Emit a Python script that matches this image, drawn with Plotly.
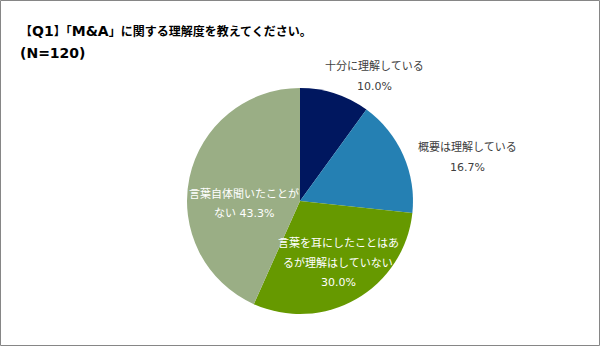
import plotly.graph_objects as go

# Survey answers (N=120)
categories = [
    "十分に理解している",
    "概要は理解している",
    "言葉を耳にしたことはあるが理解はしていない",
    "言葉自体聞いたことがない",
]
values = [10.0, 16.7, 30.0, 43.3]
colors = ["#00175f", "#2580b3", "#669900", "#9aae85"]

# Label lines as laid out on the chart; "{v}" is replaced by the value
label_lines = [
    ["十分に理解している", "{v}"],
    ["概要は理解している", "{v}"],
    ["言葉を耳にしたことはあ", "るが理解はしていない", "{v}"],
    ["言葉自体聞いたことが", "ない {v}"],
]
title_lines = ["【Q1】「M&A」に関する理解度を教えてください。", "(N=120)"]

W, H = 600, 346
FONT = "DejaVu Sans, Noto Sans CJK JP"

fig = go.Figure(
    go.Pie(
        labels=categories,
        values=values,
        sort=False,
        direction="clockwise",
        rotation=0,
        marker=dict(colors=colors, line=dict(width=0)),
        textinfo="none",
        hoverinfo="label+percent",
        domain=dict(x=[187 / W, 413 / W], y=[1 - 314 / H, 1 - 88 / H]),
        showlegend=False,
    )
)

# label placement: centre x, first line y, line step, colour (pixels)
placement = [
    (374, 66, 20, "#404040"),
    (467, 147, 20, "#404040"),
    (338, 243, 19.5, "#ffffff"),
    (244, 194, 19, "#ffffff"),
]

annotations = []
for i, (cx, y0, step, col) in enumerate(placement):
    for k, line in enumerate(label_lines[i]):
        annotations.append(dict(
            x=cx / W, y=1 - (y0 + k * step) / H, xref="paper", yref="paper",
            xanchor="center", yanchor="middle",
            text=line.replace("{v}", f"{values[i]:.1f}%"),
            showarrow=False,
            font=dict(family=FONT, size=11, color=col),
        ))


def bold_title(s):
    # Latin characters are set slightly larger than the CJK glyphs
    out = []
    for ch in s:
        if ord(ch) < 128:
            out.append(f'<span style="font-size:14px">{ch.replace("&", "&amp;")}</span>')
        else:
            out.append(ch)
    return "<b>" + "".join(out) + "</b>"


for k, line in enumerate(title_lines):
    annotations.append(dict(
        x=18 / W, y=1 - (31 + 22 * k) / H, xref="paper", yref="paper",
        xanchor="left", yanchor="middle", align="left",
        text=bold_title(line),
        showarrow=False,
        font=dict(family=FONT, size=12, color="#000000"),
    ))

fig.update_layout(
    width=W, height=H,
    margin=dict(l=0, r=0, t=0, b=0),
    paper_bgcolor="#ffffff",
    plot_bgcolor="#ffffff",
    annotations=annotations,
    shapes=[dict(
        type="rect", xref="paper", yref="paper",
        x0=0.5 / W, x1=1 - 0.5 / W, y0=0.5 / H, y1=1 - 0.5 / H,
        line=dict(color="#868686", width=1),
    )],
)

fig.write_html("out.html")
